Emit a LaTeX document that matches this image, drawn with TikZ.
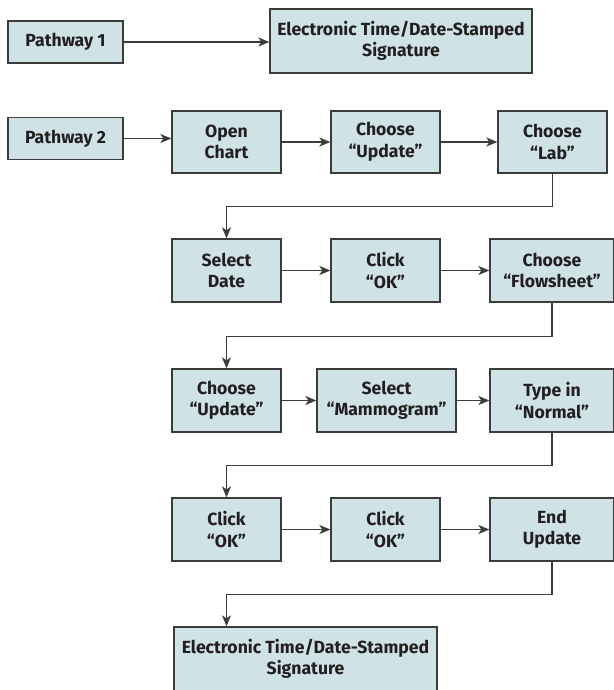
\documentclass[tikz,border=0pt]{standalone}
\usepackage{fontspec}
\setmainfont{Fira Sans}
\usetikzlibrary{arrows.meta}
\definecolor{boxfill}{RGB}{207,226,229}
\definecolor{boxline}{RGB}{60,60,60}
\definecolor{txt}{RGB}{35,31,32}
\begin{document}
\begin{tikzpicture}[x=1pt,y=-1pt,
  box/.style={draw=boxline, fill=boxfill, line width=1.3pt, inner sep=0pt, align=center, text=txt,
    font=\fontsize{17.6}{21.5}\selectfont\bfseries},
  conn/.style={draw=boxline, line width=1.3pt, -{Stealth[length=11pt,width=9pt,inset=3pt]}}]
\useasboundingbox (0,0) rectangle (613,690);
\node[box, minimum width=115pt, minimum height=42pt] (p1) at (65.5,42) {Pathway 1};
\node[box, minimum width=262pt, minimum height=64pt] (eds1) at (401,41) {Electronic Time/Date-Stamped\\Signature};
\node[box, minimum width=115pt, minimum height=42pt] (p2) at (65.5,138.5) {Pathway 2};
\node[box, minimum width=109pt, minimum height=62pt] (open) at (226.5,142) {Open\\Chart};
\node[box, minimum width=109pt, minimum height=62pt] (upd1) at (385.5,142) {Choose\\“Update”};
\node[box, minimum width=109pt, minimum height=62pt] (lab) at (552.5,142) {Choose\\“Lab”};
\node[box, minimum width=109pt, minimum height=63pt] (date) at (226.5,270.5) {Select\\Date};
\node[box, minimum width=109pt, minimum height=63pt] (ok1) at (385.5,270.5) {Click\\“OK”};
\node[box, minimum width=124pt, minimum height=63pt] (flow) at (552,270.5) {Choose\\“Flowsheet”};
\node[box, minimum width=109pt, minimum height=63pt] (upd2) at (226.5,400.5) {Choose\\“Update”};
\node[box, minimum width=139pt, minimum height=63pt] (mam) at (386.5,400.5) {Select\\“Mammogram”};
\node[box, minimum width=124pt, minimum height=63pt] (type) at (552,400.5) {Type in\\“Normal”};
\node[box, minimum width=109pt, minimum height=63pt] (ok2) at (226.5,529.5) {Click\\“OK”};
\node[box, minimum width=109pt, minimum height=63pt] (ok3) at (385.5,529.5) {Click\\“OK”};
\node[box, minimum width=124pt, minimum height=63pt] (end) at (552,529.5) {End\\Update};
\node[box, minimum width=263pt, minimum height=64pt] (eds2) at (305.5,659) {Electronic Time/Date-Stamped\\Signature};
\coordinate (e2in) at (eds2.north -| ok2.south);
\draw[conn] (p1.east) -- (p1.east -| eds1.west);
\draw[conn] (p2.east) -- (p2.east -| open.west);
\draw[conn] (open.east) -- (upd1.west);
\draw[conn] (upd1.east) -- (lab.west);
\draw[conn] (lab.south) -- ++(0,33) -| (date.north);
\draw[conn] (date.east) -- (ok1.west);
\draw[conn] (ok1.east) -- (flow.west);
\draw[conn] (flow.south) -- ++(0,33.5) -| (upd2.north);
\draw[conn] (upd2.east) -- (mam.west);
\draw[conn] (mam.east) -- (type.west);
\draw[conn] (type.south) -- ++(0,33) -| (ok2.north);
\draw[conn] (ok2.east) -- (ok3.west);
\draw[conn] (ok3.east) -- (end.west);
\draw[conn] (end.south) -- ++(0,33) -| (e2in);
\end{tikzpicture}
\end{document}
